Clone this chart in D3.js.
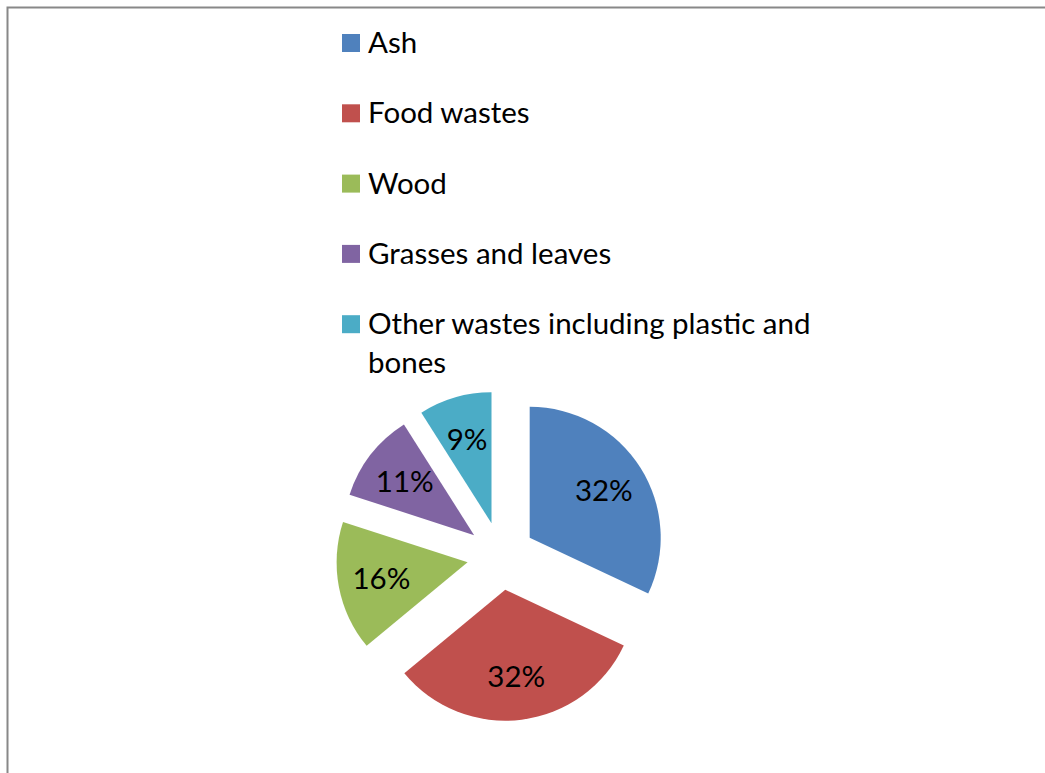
<!DOCTYPE html>
<html>
<head>
<meta charset="utf-8">
<script src="https://cdn.jsdelivr.net/npm/d3@7"></script>
<style>
  body { margin: 0; background: #fff; }
  svg { display: block; }
</style>
</head>
<body>
<svg width="1045" height="773"></svg>
<script>
// chart data
let categories = ["Ash", "Food wastes", "Wood", "Grasses and leaves", "Other wastes including plastic and bones"];
let values = [32, 32, 16, 11, 9];
let labels = ["32%", "32%", "16%", "11%", "9%"];
let colors = ["#4F81BD", "#C0504D", "#9BBB59", "#8064A2", "#4BACC6"];

let font = "Lato, 'Liberation Sans', sans-serif";
let fontSize = 29.5;

let svg = d3.select("svg");

// chart frame (runs off the right and bottom of the picture)
svg.append("rect")
  .attr("x", 7.5).attr("y", 7.5)
  .attr("width", 1100).attr("height", 900)
  .attr("fill", "#fff")
  .attr("stroke", "#888")
  .attr("stroke-width", 2);

// legend
let legend = svg.append("g").attr("transform", "translate(342,34)");
let rowStep = 70.3, lineStep = 39, wrapWidth = 455;

categories.forEach(function(name, i) {
  let row = legend.append("g").attr("transform", "translate(0," + (i * rowStep) + ")");
  row.append("rect")
    .attr("width", 18).attr("height", 18)
    .attr("fill", colors[i]);
  let text = row.append("text")
    .attr("x", 26).attr("y", 19)
    .attr("font-family", font)
    .attr("font-size", fontSize)
    .attr("fill", "#000");
  // simple word wrap
  let words = name.split(" "), line = [];
  let tspan = text.append("tspan").attr("x", 26).attr("dy", 0);
  words.forEach(function(w) {
    line.push(w);
    tspan.text(line.join(" "));
    if (tspan.node().getComputedTextLength() > wrapWidth && line.length > 1) {
      line.pop();
      tspan.text(line.join(" "));
      line = [w];
      tspan = text.append("tspan").attr("x", 26).attr("dy", lineStep).text(w);
    }
  });
});

// exploded pie
let cx = 501, cy = 556, radius = 131, explode = 34;

let pie = d3.pie().sort(null).value(function(d) { return d; });
let arcs = pie(values);
let arc = d3.arc().innerRadius(0).outerRadius(radius);
let labelArc = d3.arc().innerRadius(radius * 0.67).outerRadius(radius * 0.67);

let pieGroup = svg.append("g").attr("transform", "translate(" + cx + "," + cy + ")");

let slices = pieGroup.selectAll("g.slice").data(arcs).enter().append("g")
  .attr("class", "slice")
  .attr("transform", function(d) {
    let mid = (d.startAngle + d.endAngle) / 2;
    return "translate(" + (explode * Math.sin(mid)) + "," + (-explode * Math.cos(mid)) + ")";
  });

slices.append("path")
  .attr("d", arc)
  .attr("fill", function(d, i) { return colors[i]; });

slices.append("text")
  .attr("transform", function(d) { return "translate(" + labelArc.centroid(d) + ")"; })
  .attr("text-anchor", "middle")
  .attr("dy", "0.36em")
  .attr("font-family", font)
  .attr("font-size", fontSize)
  .attr("fill", "#000")
  .text(function(d, i) { return labels[i]; });
</script>
</body>
</html>
